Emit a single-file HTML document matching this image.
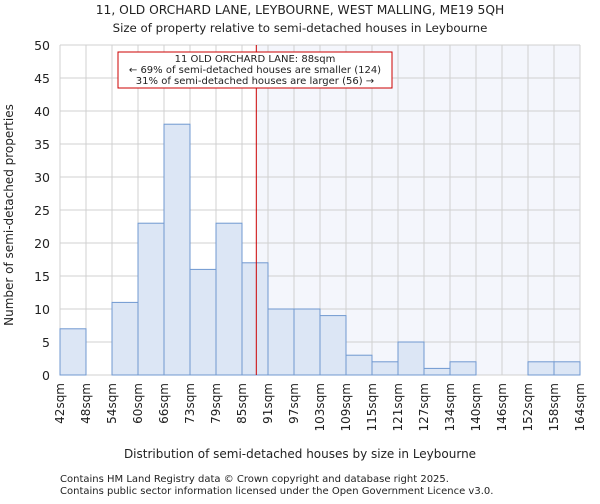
<!DOCTYPE html>
<html><head><meta charset="utf-8"><style>
body{margin:0;background:#fff;font-family:"DejaVu Sans","Liberation Sans",sans-serif;}
svg text{font-family:"DejaVu Sans","Liberation Sans",sans-serif;fill:#222;}
</style></head><body>
<svg id="c" width="600" height="500">
<text x="300" y="14" font-size="12.3" text-anchor="middle">11, OLD ORCHARD LANE, LEYBOURNE, WEST MALLING, ME19 5QH</text>
<text x="300" y="32" font-size="11.8" text-anchor="middle">Size of property relative to semi-detached houses in Leybourne</text>
<g id="plot"></g>
<text x="300" y="458" font-size="12" text-anchor="middle">Distribution of semi-detached houses by size in Leybourne</text>
<text transform="translate(13,215) rotate(-90)" font-size="12" text-anchor="middle">Number of semi-detached properties</text>
<text x="60" y="482" font-size="10">Contains HM Land Registry data © Crown copyright and database right 2025.</text>
<text x="60" y="494" font-size="10">Contains public sector information licensed under the Open Government Licence v3.0.</text>
</svg>
<script>
const categories=["42sqm","48sqm","54sqm","60sqm","66sqm","73sqm","79sqm","85sqm","91sqm","97sqm","103sqm","109sqm","115sqm","121sqm","127sqm","134sqm","140sqm","146sqm","152sqm","158sqm","164sqm"];
const counts=[7,0,11,23,38,16,23,17,10,10,9,3,2,5,1,2,0,0,2,2];
const yTicks=[0,5,10,15,20,25,30,35,40,45,50];
const markerBin=7.55;
const X0=60,X1=580,Y0=375,Y1=45,YMAX=50;
const bw=(X1-X0)/counts.length;
const xs=i=>X0+i*bw;
const ys=v=>Y0-(Y0-Y1)*v/YMAX;
const g=document.getElementById('plot');
const NS='http://www.w3.org/2000/svg';
function mk(t,a){const e=document.createElementNS(NS,t);for(const k in a)e.setAttribute(k,a[k]);g.appendChild(e);return e;}
const mx=xs(markerBin);
const sh=mk('rect',{x:mx,y:Y1,width:X1-mx,height:Y0-Y1,fill:'#f4f6fc'});


for(const t of yTicks){
 const l=mk('line',{x1:X0,x2:X1,y1:ys(t),y2:ys(t),stroke:'#d0d0d0','stroke-width':1});
 
 
 const tx=mk('text',{x:X0-10,y:ys(t)+5,'font-size':12.5,'text-anchor':'end'});
 tx.textContent=t;
 
 
}
categories.forEach((c,i)=>{
 const l=mk('line',{x1:xs(i),x2:xs(i),y1:Y1,y2:Y0,stroke:'#d0d0d0','stroke-width':1});
 
 
 const tx=mk('text',{transform:`translate(${xs(i)+4},${Y0+8}) rotate(-90)`,'font-size':12,'text-anchor':'end'});
 tx.textContent=c;
 
 
});
counts.forEach((v,i)=>{
 if(v<=0)return;
 const r=mk('rect',{x:xs(i),y:ys(v),width:bw,height:Y0-ys(v),fill:'#dce6f5',stroke:'#7098d0','stroke-width':1});
 
 
});
const ml=mk('line',{x1:mx,x2:mx,y1:Y1,y2:Y0,stroke:'#cc0000','stroke-width':1});


const bx=mk('rect',{x:118,y:52,width:274,height:36,fill:'#fff',stroke:'#cc0000','stroke-width':1});


["11 OLD ORCHARD LANE: 88sqm","← 69% of semi-detached houses are smaller (124)","31% of semi-detached houses are larger (56) →"].forEach((s,i)=>{
 const t=mk('text',{x:255,y:62+i*11,'font-size':10,'text-anchor':'middle'});
 t.textContent=s;
 
 
});
</script>
</body></html>
